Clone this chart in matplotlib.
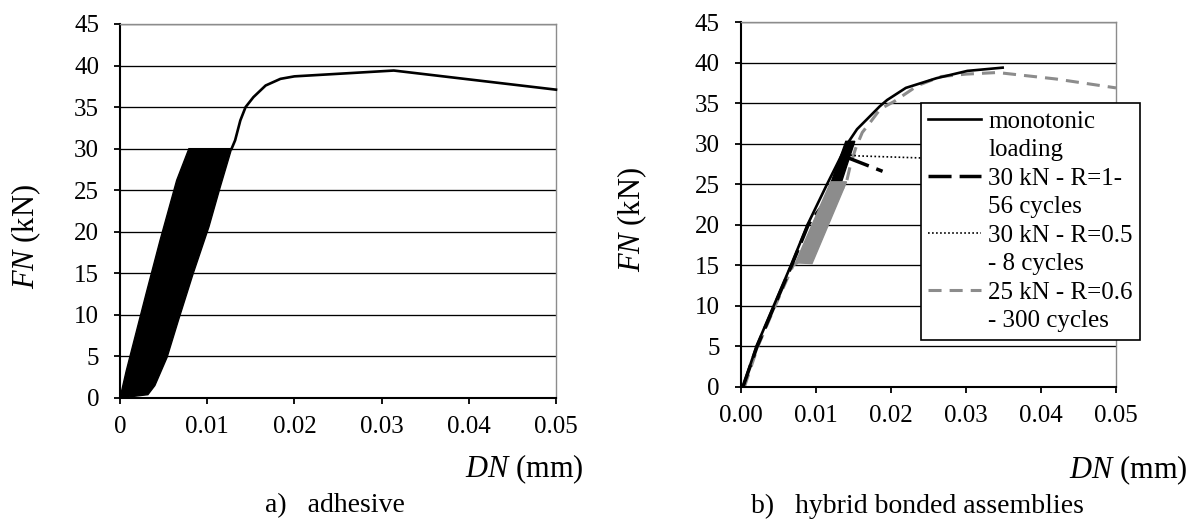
import matplotlib
matplotlib.use("Agg")
import matplotlib.pyplot as plt
from matplotlib.lines import Line2D

plt.rcParams['font.family'] = ['Liberation Serif', 'DejaVu Serif']
plt.rcParams['mathtext.fontset'] = 'custom'
plt.rcParams['mathtext.rm'] = 'Liberation Serif'
plt.rcParams['mathtext.it'] = 'Liberation Serif:italic'
plt.rcParams['lines.scale_dashes'] = False

# ---- a) adhesive : cyclic envelope + monotonic end ----
adh_cyc_left_x = [0.0, 0.0007, 0.0030, 0.0046, 0.0065, 0.0079]
adh_cyc_left_y = [0.0, 3.2, 12.6, 19.0, 26.2, 30.0]
adh_cyc_right_x = [0.0128, 0.0115, 0.0102, 0.0084, 0.0067, 0.0054, 0.0040, 0.0032]
adh_cyc_right_y = [30.0, 25.4, 20.6, 15.0, 9.35, 4.9, 1.5, 0.4]
adh_mono_x = [0.0128, 0.0132, 0.0138, 0.0144, 0.0153, 0.0167, 0.0184, 0.0200, 0.0314, 0.0500]
adh_mono_y = [30.0, 31.0, 33.4, 35.0, 36.2, 37.6, 38.4, 38.7, 39.4, 37.1]

# ---- b) hybrid bonded assemblies ----
mono_x = [0.0003, 0.0021, 0.0044, 0.0067, 0.0089, 0.0115, 0.0142, 0.0155, 0.0169,
          0.0185, 0.0195, 0.0220, 0.0261, 0.0302, 0.0349]
mono_y = [0.0, 5.0, 10.0, 15.0, 20.0, 25.0, 30.0, 31.8, 33.1, 34.6, 35.4, 36.9, 38.1, 39.0, 39.4]

r1_x = [0.0003, 0.0022, 0.0045, 0.0068, 0.0090, 0.0110]
r1_y = [0.0, 5.0, 10.0, 15.0, 20.0, 22.5]
r1_cyc_x = [0.0106, 0.0140, 0.0152, 0.0121]
r1_cyc_y = [21.5, 30.3, 30.3, 21.5]
r1_post_x = [0.0142, 0.0189]
r1_post_y = [28.3, 26.6]

r05_x = [0.0146, 0.0157, 0.0240, 0.0300]
r05_y = [28.6, 28.5, 28.25, 28.0]

r06_x = [0.0005, 0.0023, 0.0046, 0.0070, 0.0075]
r06_y = [0.0, 5.0, 10.0, 15.0, 15.3]
r06_cyc_x = [0.0073, 0.0120, 0.0141, 0.0095]
r06_cyc_y = [15.3, 25.3, 25.3, 15.2]
r06_post_x = [0.0141, 0.0146, 0.0153, 0.0162, 0.0173, 0.0186, 0.0204, 0.0236, 0.0267,
              0.0300, 0.0342, 0.0420, 0.0500]
r06_post_y = [25.3, 27.3, 29.4, 31.4, 32.7, 34.3, 35.2, 37.2, 38.3, 38.6, 38.8, 38.0, 36.9]

yticks = [0, 5, 10, 15, 20, 25, 30, 35, 40, 45]
xticks = [0, 0.01, 0.02, 0.03, 0.04, 0.05]
left_xlabels = ['0', '0.01', '0.02', '0.03', '0.04', '0.05']
right_xlabels = ['0.00', '0.01', '0.02', '0.03', '0.04', '0.05']

legend_labels = ['monotonic', 'loading', '30 kN - R=1-', '56 cycles',
                 '30 kN - R=0.5', '- 8 cycles', '25 kN - R=0.6', '- 300 cycles']

GRAY = '#8c8c8c'
TICK_FS = 18
LABEL_FS = 22
CAP_FS = 20

fig = plt.figure(figsize=(11.91, 5.23), dpi=100)
ax1 = fig.add_axes([120 / 1191, 1 - 398 / 523, 436 / 1191, 374 / 523])
ax2 = fig.add_axes([740.7 / 1191, 1 - 386.7 / 523, 375.3 / 1191, 364.4 / 523])


def style_axes(ax, xlabels):
    ax.set_xlim(0, 0.05)
    ax.set_ylim(0, 45)
    ax.set_xticks(xticks)
    ax.set_xticklabels(xlabels)
    ax.set_yticks(yticks)
    ax.set_yticklabels([str(v) for v in yticks])
    ax.yaxis.grid(True, color='black', lw=0.95)
    ax.set_axisbelow(True)
    for s in ['left', 'bottom']:
        ax.spines[s].set_color('black')
        ax.spines[s].set_linewidth(1.5)
    for s in ['top', 'right']:
        ax.spines[s].set_color(GRAY)
        ax.spines[s].set_linewidth(1.0)
    ax.tick_params(direction='out', length=4, width=1.3, labelsize=TICK_FS,
                   top=False, right=False)
    ax.tick_params(axis='y', pad=11)
    ax.tick_params(axis='x', pad=9)


style_axes(ax1, left_xlabels)
style_axes(ax2, right_xlabels)

# panel a
ax1.fill(adh_cyc_left_x + adh_cyc_right_x, adh_cyc_left_y + adh_cyc_right_y,
         color='black', lw=1.0, zorder=2)
ax1.plot(adh_mono_x, adh_mono_y, color='black', lw=1.9, zorder=3, clip_on=False)

# panel b
ax2.plot(r06_x + r06_post_x, r06_y + r06_post_y, color=GRAY, lw=2.2,
         dashes=(9.4, 5.8), zorder=2)
ax2.plot(r1_x, r1_y, color='black', lw=2.5, dashes=(16.6, 5.8), zorder=2)
ax2.plot(r1_post_x, r1_post_y, color='black', lw=2.5, dashes=(16.6, 5.8), zorder=2)
ax2.plot(r05_x, r05_y, color='black', lw=1.2, dashes=(1.2, 1.7), zorder=2)
ax2.plot(mono_x, mono_y, color='black', lw=1.9, zorder=2.5)
ax2.fill(r1_cyc_x, r1_cyc_y, color='black', lw=1.0, zorder=2.6)
ax2.fill(r06_cyc_x, r06_cyc_y, color=GRAY, lw=1.0, zorder=2.7)

blank = Line2D([], [], color='none')
handles = [Line2D([], [], color='black', lw=1.9), blank,
           Line2D([], [], color='black', lw=2.5, dashes=(16.6, 5.8)), blank,
           Line2D([], [], color='black', lw=1.2, dashes=(1.2, 1.7)), blank,
           Line2D([], [], color=GRAY, lw=2.2, dashes=(9.4, 5.8)), blank]
leg = ax2.legend(handles, legend_labels, loc='upper left',
                 bbox_to_anchor=((920.7 - 740.7) / 375.3, (386.7 - 102.7) / 364.4),
                 borderaxespad=0, fontsize=TICK_FS, handlelength=2.1,
                 handletextpad=0.3, labelspacing=0.24, borderpad=0.3,
                 fancybox=False, framealpha=1, edgecolor='black')
leg.get_frame().set_linewidth(1.2)

# axis titles and captions
fig.text(26 / 1191, 1 - 236.7 / 523, r'$FN$ (kN)', rotation=90, ha='center',
         va='center', fontsize=LABEL_FS)
fig.text(632 / 1191, 1 - 220 / 523, r'$FN$ (kN)', rotation=90, ha='center',
         va='center', fontsize=LABEL_FS)
fig.text(584 / 1191, 1 - 469 / 523, r'$DN$ (mm)', ha='right', va='center',
         fontsize=LABEL_FS)
fig.text(1188 / 1191, 1 - 470 / 523, r'$DN$ (mm)', ha='right', va='center',
         fontsize=LABEL_FS)
fig.text(335 / 1191, 1 - 506 / 523, 'a)   adhesive', ha='center', va='center',
         fontsize=CAP_FS)
fig.text(917 / 1191, 1 - 506 / 523, 'b)   hybrid bonded assemblies', ha='center',
         va='center', fontsize=CAP_FS)

fig.savefig('out.png', dpi=100)
